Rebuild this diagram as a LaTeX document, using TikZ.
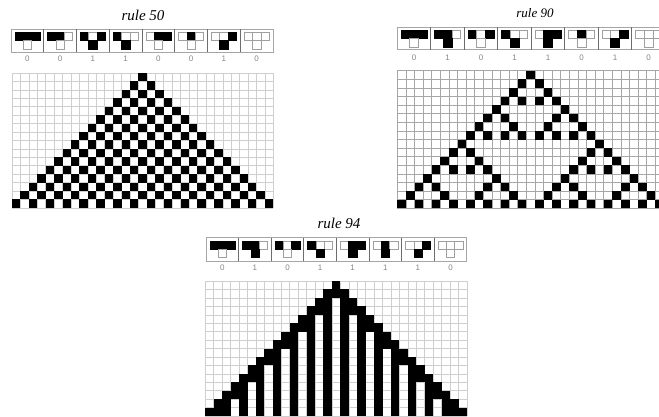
\documentclass[tikz,border=0pt]{standalone}
\usepackage{fontspec}
\setmainfont{Liberation Serif}
\newfontfamily\digfont{Liberation Sans}
\tikzset{
  c0/.style={fill=white, draw=gray!75, line width=0.5pt},
  c1/.style={fill=black, draw=black, line width=0.5pt},
  iconframe/.style={draw=gray!70, line width=0.7pt},
  iconsep/.style={draw=gray!85!black, line width=0.7pt},
  dig/.style={font=\digfont\fontsize{8}{9}\selectfont, text=gray!95, inner sep=0pt},
  ttl/.style={font=\itshape\fontsize{15}{17}\selectfont, inner sep=0pt},
  ttlsmall/.style={font=\itshape\fontsize{13}{15}\selectfont, inner sep=0pt},
  gllight/.style={draw=gray!38, line width=0.5pt},
  gldark/.style={draw=gray!70, line width=0.5pt},
}
% #1 x0, #2 y0, #3 box width, #4 box height, #5 cell, #6 bits, #7 prefix, #8 digit offset
\newcommand{\ruleicons}[8]{%
  \draw[iconframe] (#1,#2) rectangle ({#1+8*#3},{#2+#4});
  \foreach \b [count=\i from 0] in {#6} {
    \pgfmathsetmacro{\bx}{#1+\i*#3}
    \pgfmathsetmacro{\mx}{(#3-3*#5)/2}
    \pgfmathsetmacro{\my}{(#4-2*#5)/2}
    \pgfmathtruncatemacro{\n}{7-\i}
    \pgfmathtruncatemacro{\ba}{div(\n,4)}
    \pgfmathtruncatemacro{\bb}{mod(div(\n,2),2)}
    \pgfmathtruncatemacro{\bc}{mod(\n,2)}
    \ifnum\i>0 \draw[iconsep] (\bx,#2) -- (\bx,{#2+#4}); \fi
    \draw[c\ba] ({\bx+\mx},{#2+\my}) rectangle ++(#5,#5);
    \draw[c\bb] ({\bx+\mx+#5},{#2+\my}) rectangle ++(#5,#5);
    \draw[c\bc] ({\bx+\mx+2*#5},{#2+\my}) rectangle ++(#5,#5);
    \draw[c\b] ({\bx+\mx+#5},{#2+\my+#5}) rectangle ++(#5,#5);
    \node[dig] (#7d\i) at ({\bx+#3/2},{#2+#4+#8}) {\b};
  }
}
% #1 x0, #2 y0, #3 cell, #4 style
\newcommand{\cagrid}[4]{%
  \foreach \c in {0,...,31} \draw[#4] ({#1+\c*#3},#2) -- ({#1+\c*#3},{#2+16*#3});
  \foreach \r in {0,...,16} \draw[#4] (#1,{#2+\r*#3}) -- ({#1+31*#3},{#2+\r*#3});
}
\begin{document}
\begin{tikzpicture}[x=1pt,y=-1pt]
\useasboundingbox (0,0) rectangle (659,416);
\clip (0,0) rectangle (659,416);

% ---------- rule 50 ----------
\node[ttl] (t50) at (143,15) {rule 50};
\ruleicons{11}{29}{32.75}{23}{8.3}{0,0,1,1,0,0,1,0}{a}{7}
\cagrid{12}{73}{8.43}{gllight}
\foreach \r in {0,...,15} \foreach \c in {0,...,30} {
  \pgfmathtruncatemacro{\k}{abs(\c-15)}
  \pgfmathtruncatemacro{\on}{(\k<=\r) && (mod(\k+\r,2)==0)}
  \ifnum\on=1 \fill[black] ({12+\c*8.43},{73+\r*8.43}) rectangle ++(8.43,8.43); \fi
}

% ---------- rule 90 ----------
\node[ttlsmall] (t90) at (535,13) {rule 90};
\ruleicons{397.3}{27.3}{33.5}{22.5}{8.7}{0,1,0,1,1,0,1,0}{b}{7.5}
\cagrid{397.3}{70.7}{8.6}{gldark}
\foreach \r in {0,...,15} \foreach \c in {0,...,30} {
  \pgfmathtruncatemacro{\k}{\c-15}
  \pgfmathtruncatemacro{\ok}{(abs(\k)<=\r) && (mod(\r+\k+32,2)==0)}
  \ifnum\ok=1
    \pgfmathtruncatemacro{\jj}{(\r+\k)/2}
    \pgfmathtruncatemacro{\mm}{(\r-\k)/2}
    \pgfmathtruncatemacro{\bad}{mod(\jj,2)*mod(\mm,2)+mod(div(\jj,2),2)*mod(div(\mm,2),2)+mod(div(\jj,4),2)*mod(div(\mm,4),2)+mod(div(\jj,8),2)*mod(div(\mm,8),2)}
    \ifnum\bad=0 \fill[black] ({397.3+\c*8.6},{70.7+\r*8.6}) rectangle ++(8.6,8.6); \fi
  \fi
}

% ---------- rule 94 ----------
\node[ttl] (t94) at (339,223) {rule 94};
\ruleicons{206}{237.5}{32.6}{23.5}{8.3}{0,1,0,1,1,1,1,0}{c}{7}
\cagrid{205.3}{281}{8.44}{gllight}
\foreach \r in {0,...,15} \foreach \c in {0,...,30} {
  \pgfmathtruncatemacro{\k}{abs(\c-15)}
  \pgfmathtruncatemacro{\on}{(\k<=\r) && ((\k>=\r-1) || (mod(\k,2)==1))}
  \ifnum\on=1 \fill[black] ({205.3+\c*8.44},{281+\r*8.44}) rectangle ++(8.44,8.44); \fi
}
\end{tikzpicture}
\end{document}
